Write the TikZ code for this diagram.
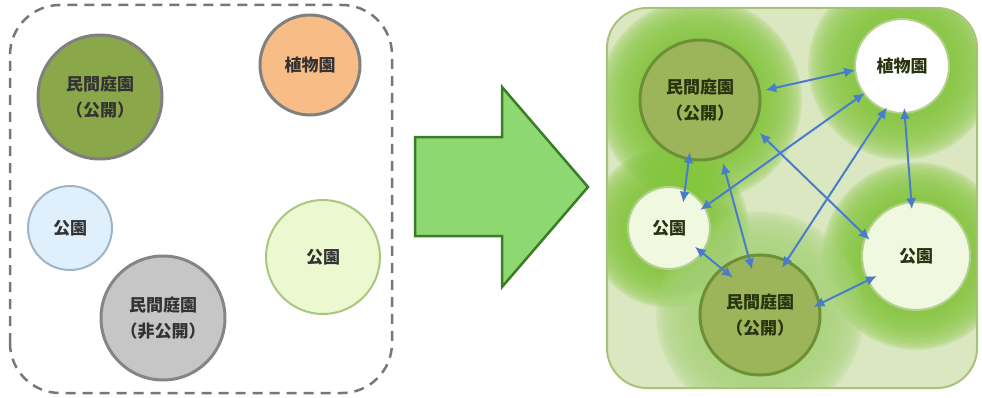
\documentclass[tikz,border=0pt]{standalone}
\usepackage{fontspec}
\newfontfamily\jp{Noto Sans CJK JP}
\usetikzlibrary{arrows.meta}

\definecolor{dashgray}{HTML}{777777}
\definecolor{ringgray}{HTML}{808080}
\definecolor{olive}{HTML}{8AA84A}
\definecolor{orange}{HTML}{F8BD86}
\definecolor{skyfill}{HTML}{DFF0FC}
\definecolor{skyline}{HTML}{9FB5C4}
\definecolor{limefill}{HTML}{ECF8D0}
\definecolor{limeline}{HTML}{A9C77F}
\definecolor{greyfill}{HTML}{C6C6C6}
\definecolor{greyline}{HTML}{858585}
\definecolor{bigarrowfill}{HTML}{8ED872}
\definecolor{bigarrowline}{HTML}{3B7D26}
\definecolor{panelbg}{HTML}{DAE7C0}
\definecolor{panelline}{HTML}{A9C27A}
\definecolor{halogreen}{HTML}{82C63A}
\definecolor{palehalo}{HTML}{A8D47A}
\definecolor{gardenfill}{HTML}{9DB55A}
\definecolor{gardenline}{HTML}{6D8F35}
\definecolor{parkfill}{HTML}{F0F8E0}
\definecolor{parkline}{HTML}{B5D08D}
\definecolor{linkblue}{HTML}{4A7DC9}
\definecolor{labelgray}{HTML}{333333}
\definecolor{labelgreen}{HTML}{28330F}

% soft glow: stacked translucent discs around a node
% #1 colour, #2 centre, #3 outer radius, #4 inner radius
\newcommand{\glow}[4]{%
  \foreach \k in {0,...,15}
    \fill[#1, opacity=0.13] (#2) circle ({#3-(#3-#4)*(\k/15)^1.4});
}

\begin{document}
\begin{tikzpicture}[x=1pt, y=1pt,
  bubble/.style={circle, draw, inner sep=0pt, outer sep=0pt, align=center,
    font=\jp\bfseries\fontsize{17}{26}\selectfont},
  leftlabel/.style={text=labelgray},
  rightlabel/.style={text=labelgreen},
  link/.style={draw=linkblue, line width=2pt,
    {Latex[length=11pt,width=10pt]}-{Latex[length=11pt,width=10pt]}}]
\useasboundingbox (0,0) rectangle (982,397);

% ---- before: scattered green spaces ----
\draw[dashgray, line width=2.5pt, dash pattern=on 10pt off 7pt, rounded corners=50pt]
  (10,4) rectangle (392,392);

\node[bubble, leftlabel, minimum size=124pt, fill=olive, draw=ringgray, line width=3pt]
  (A) at (100,300) {民間庭園\\（公開）};
\node[bubble, leftlabel, minimum size=100pt, fill=orange, draw=ringgray, line width=3pt]
  (B) at (310,332) {植物園};
\node[bubble, leftlabel, minimum size=84pt, fill=skyfill, draw=skyline, line width=2pt]
  (C) at (70,169) {公園};
\node[bubble, leftlabel, minimum size=114pt, fill=limefill, draw=limeline, line width=2pt]
  (D) at (323,140) {公園};
\node[bubble, leftlabel, minimum size=124pt, fill=greyfill, draw=greyline, line width=3pt]
  (E) at (163,79) {民間庭園\\（非公開）};

% ---- transition arrow ----
\draw[fill=bigarrowfill, draw=bigarrowline, line width=2.5pt, line join=miter]
  (415,260) -- (502,260) -- (502,310) -- (588,210) -- (502,110) -- (502,161)
  -- (415,161) -- cycle;

% ---- after: connected network ----
\draw[fill=panelbg, draw=panelline, line width=2pt, rounded corners=40pt]
  (607,9) rectangle (977,389);

\coordinate (tlc) at (700,297);
\coordinate (plc) at (902,331);
\coordinate (spc) at (669,169);
\coordinate (rpc) at (916,141);
\coordinate (bmc) at (760,82);

\begin{scope}
  \clip[rounded corners=40pt] (608,10) rectangle (976,388);
  \glow{halogreen}{tlc}{102}{55}
  \glow{halogreen}{plc}{94}{44}
  \glow{halogreen}{spc}{80}{38}
  \glow{halogreen}{rpc}{94}{50}
  \glow{palehalo}{bmc}{104}{55}
\end{scope}

\node[bubble, rightlabel, minimum size=120pt, fill=gardenfill, draw=gardenline, line width=3pt]
  (TL) at (tlc) {民間庭園\\（公開）};
\node[bubble, rightlabel, minimum size=94pt, fill=white, draw=parkline, line width=2pt]
  (PL) at (plc) {植物園};
\node[bubble, rightlabel, minimum size=82pt, fill=parkfill, draw=parkline, line width=2pt]
  (SP) at (spc) {公園};
\node[bubble, rightlabel, minimum size=108pt, fill=parkfill, draw=parkline, line width=2pt]
  (RP) at (rpc) {公園};
\node[bubble, rightlabel, minimum size=120pt, fill=gardenfill, draw=gardenline, line width=3pt]
  (BM) at (bmc) {民間庭園\\（公開）};

\draw[link] ([shift={(8.7:66)}]TL.center) -- ([shift={(184.9:47)}]PL.center);
\draw[link] ([shift={(259:53)}]TL.center) -- ([shift={(60.8:29)}]SP.center);
\draw[link] ([shift={(290:67)}]TL.center) -- ([shift={(100:46)}]BM.center);
\draw[link] ([shift={(331:68)}]TL.center) -- ([shift={(160.8:49)}]RP.center);
\draw[link] ([shift={(216:46)}]PL.center) -- ([shift={(30:36)}]SP.center);
\draw[link] ([shift={(250:44)}]PL.center) -- ([shift={(65:52)}]BM.center);
\draw[link] ([shift={(273:42)}]PL.center) -- ([shift={(95:47)}]RP.center);
\draw[link] ([shift={(324:32)}]SP.center) -- ([shift={(126:46)}]BM.center);
\draw[link] ([shift={(8.6:54)}]BM.center) -- ([shift={(207:44)}]RP.center);
\end{tikzpicture}
\end{document}
